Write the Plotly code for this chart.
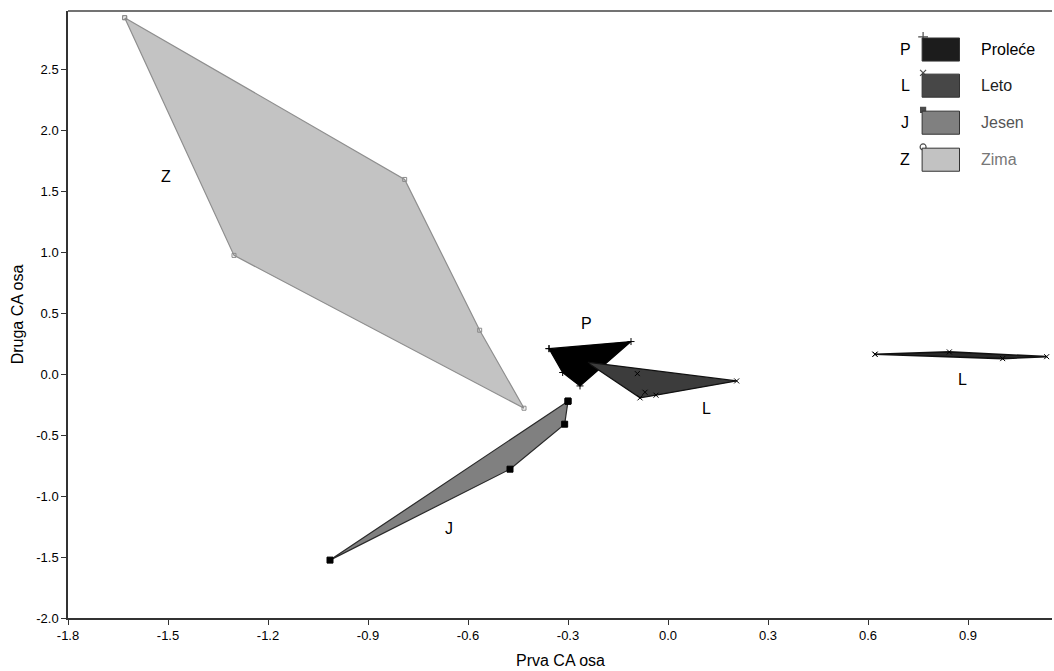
import plotly.graph_objects as go

# ---- data ----
z_x = [-1.63, -0.79, -0.565, -0.432, -1.302]
z_y = [2.925, 1.598, 0.361, -0.279, 0.975]

j_x = [-0.30, -0.31, -0.474, -1.014]
j_y = [-0.221, -0.41, -0.779, -1.525]

p_x = [-0.357, -0.111, -0.264, -0.316]
p_y = [0.21, 0.268, -0.096, 0.014]

l1_x = [-0.244, 0.206, -0.036, -0.084]
l1_y = [0.10, -0.055, -0.172, -0.194]
l1_inner_x = [-0.092, -0.069]
l1_inner_y = [0.005, -0.148]

l2_x = [0.621, 0.844, 1.136, 1.004]
l2_y = [0.164, 0.183, 0.144, 0.128]

group_labels = ["Z", "P", "L", "J", "L"]
group_label_x = [-1.506, -0.246, 0.114, -0.657, 0.882]
group_label_y = [1.62, 0.418, -0.279, -1.262, -0.041]

legend_codes = ["P", "L", "J", "Z"]
legend_names = ["Proleće", "Leto", "Jesen", "Zima"]

x_ticks = [-1.8, -1.5, -1.2, -0.9, -0.6, -0.3, 0.0, 0.3, 0.6, 0.9]
y_ticks = [-2.0, -1.5, -1.0, -0.5, 0.0, 0.5, 1.0, 1.5, 2.0, 2.5]

# ---- styles ----
legend_fill = ["#1c1c1c", "#474747", "#808080", "#c2c2c2"]
legend_text_col = ["#000000", "#222222", "#555555", "#777777"]
legend_marker = ["cross-thin", "x-thin", "square", "circle-open"]

FONT = "Liberation Sans, Arial, sans-serif"

fig = go.Figure()


def poly(xs, ys, fill, line, width, marker_symbol, marker_color, msize):
    fig.add_trace(go.Scatter(
        x=xs + [xs[0]], y=ys + [ys[0]], mode="lines+markers",
        fill="toself", fillcolor=fill,
        line=dict(color=line, width=width),
        marker=dict(symbol=marker_symbol, color=marker_color, size=msize,
                    line=dict(color=marker_color, width=1)),
        hoverinfo="x+y", showlegend=False))


poly(z_x, z_y, "#c3c3c3", "#8e8e8e", 1.2, "square-open", "#8a8a8a", 4)
poly(j_x, j_y, "#808080", "#2a2a2a", 1.2, "square", "#000000", 6)
poly(p_x, p_y, "#000000", "#000000", 1.2, "cross-thin", "#000000", 5)
poly(l1_x, l1_y, "#3c3c3c", "#111111", 1.2, "x-thin", "#000000", 5)
poly(l2_x, l2_y, "#2a2a2a", "#111111", 1.6, "x-thin", "#000000", 5)
fig.add_trace(go.Scatter(x=l1_inner_x, y=l1_inner_y, mode="markers",
                         marker=dict(symbol="x-thin", size=5, color="#000",
                                     line=dict(color="#000", width=1)),
                         showlegend=False))

annotations = []
for t, x, y in zip(group_labels, group_label_x, group_label_y):
    annotations.append(dict(x=x, y=y, text=t, showarrow=False,
                            xanchor="center", yanchor="middle",
                            font=dict(family=FONT, size=16, color="#000")))

# ---- custom legend in paper coordinates ----
shapes = []
row_top = [0.9555, 0.896, 0.835, 0.774]
rect_h = 0.038
x0, x1 = 0.868, 0.906
for i in range(4):
    yt = row_top[i]
    shapes.append(dict(type="rect", xref="paper", yref="paper",
                       x0=x0, x1=x1, y0=yt - rect_h, y1=yt,
                       fillcolor=legend_fill[i],
                       line=dict(color="#333333", width=1)))
    annotations.append(dict(xref="paper", yref="paper", x=0.851, y=yt - rect_h / 2,
                            text=legend_codes[i], showarrow=False,
                            xanchor="center", yanchor="middle",
                            font=dict(family=FONT, size=16, color="#000")))
    annotations.append(dict(xref="paper", yref="paper", x=0.926, y=yt - rect_h / 2,
                            text=legend_names[i], showarrow=False,
                            xanchor="left", yanchor="middle",
                            font=dict(family=FONT, size=16, color=legend_text_col[i])))

fig.add_trace(go.Scatter(
    x=[x0 + 0.001] * 4, y=[r + 0.002 for r in row_top], mode="markers",
    xaxis="x2", yaxis="y2",
    marker=dict(symbol=legend_marker, size=[7, 6, 5, 6], color="#000",
                line=dict(color="#000", width=1.2)),
    showlegend=False, hoverinfo="skip"))

# top border line
shapes.append(dict(type="line", xref="paper", yref="paper", x0=0, x1=1, y0=1, y1=1,
                   line=dict(color="#444444", width=1.5)))

# axis titles as annotations (placed like the reference)
annotations.append(dict(xref="paper", yref="paper", x=0.5, y=-0.07,
                        xanchor="center", yanchor="middle",
                        text="Prva CA osa", showarrow=False,
                        font=dict(family=FONT, size=16, color="#000")))
annotations.append(dict(xref="paper", yref="paper", x=-0.051, y=0.5,
                        xanchor="center", yanchor="middle",
                        text="Druga CA osa", showarrow=False, textangle=-90,
                        font=dict(family=FONT, size=16, color="#000")))

fig.update_layout(
    width=1054, height=671,
    margin=dict(l=68, r=2, t=11, b=53),
    paper_bgcolor="white", plot_bgcolor="white",
    showlegend=False,
    xaxis=dict(range=[-1.8, 1.152], tickvals=x_ticks,
               ticktext=[f"{v:.1f}" for v in x_ticks],
               showgrid=False, zeroline=False, showline=True, automargin=False,
               linecolor="#333333", linewidth=1.5,
               ticks="outside", ticklen=5, tickcolor="#333333",
               tickfont=dict(family=FONT, size=13, color="#000")),
    yaxis=dict(range=[-2.0, 2.98], tickvals=y_ticks,
               ticktext=[f"{v:.1f}" for v in y_ticks],
               showgrid=False, zeroline=False, showline=True, automargin=False,
               linecolor="#333333", linewidth=1.5,
               ticks="outside", ticklen=5, tickcolor="#333333",
               tickfont=dict(family=FONT, size=13, color="#000")),
    xaxis2=dict(range=[0, 1], overlaying="x", visible=False),
    yaxis2=dict(range=[0, 1], overlaying="y", visible=False),
    shapes=shapes, annotations=annotations,
)

fig.write_html("out.html", config={"displayModeBar": False},
               post_script="document.body.style.margin='0';document.body.style.overflow='hidden';")
